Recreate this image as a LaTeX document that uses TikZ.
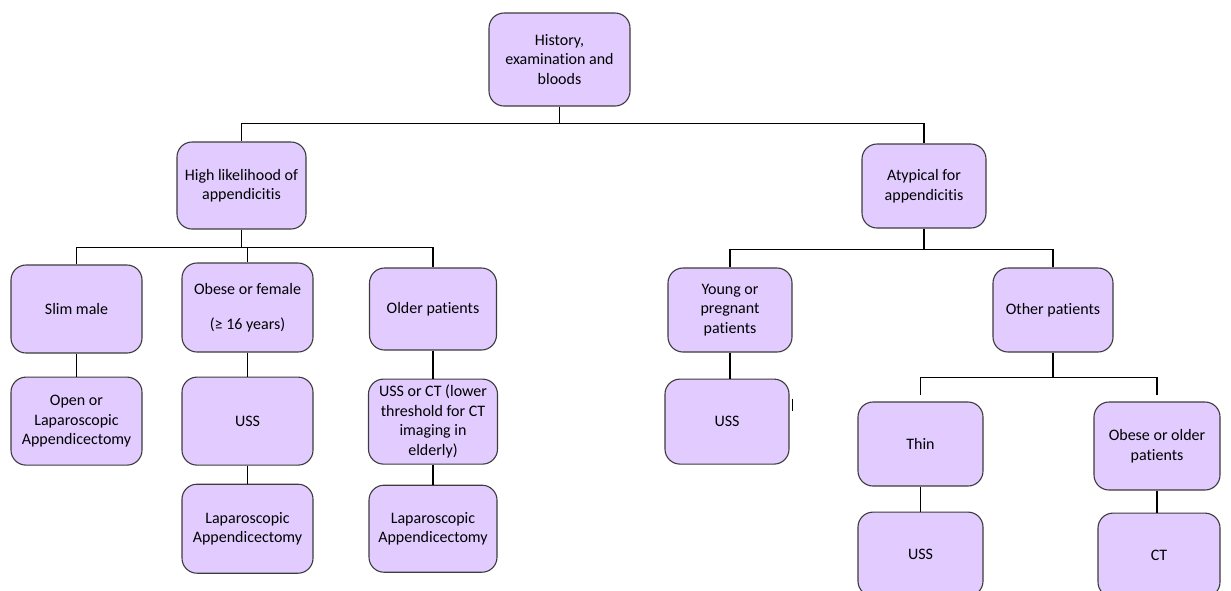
\documentclass[tikz,border=0pt]{standalone}
\usepackage{fontspec}
\setmainfont{Carlito}[Ligatures={NoCommon}]
\usepackage{xcolor}
\usepackage{tikz}
\usetikzlibrary{positioning}
\definecolor{boxfill}{HTML}{E2CCFF}
\definecolor{boxline}{HTML}{3C3C3C}

\begin{document}
\begin{tikzpicture}[
    x=1pt,y=-1pt,
    node distance=24pt,
    every node/.style={font=\fontsize{16}{19.5}\selectfont},
    stepbox/.style={rectangle,rounded corners=15pt,draw=boxline,line width=1.1pt,
      fill=boxfill,align=center,minimum width=130pt,minimum height=88pt,inner sep=2pt},
    link/.style={line width=1.8pt,black},
  ]
  \useasboundingbox (0,0) rectangle (1231,590);
  % top of the tree
  \node[stepbox,minimum width=141pt,minimum height=93pt] (root) at (559.5,59.5) {History,\\examination and\\bloods};
  \node[stepbox,minimum width=129pt,minimum height=87pt] (high) at (241.5,185.5) {High likelihood of\\appendicitis};
  \node[stepbox,minimum width=124pt,minimum height=84pt] (atyp) at (924,186) {Atypical for\\appendicitis};
  \draw[link] (root.south) -- ++(0,17) -| (high.north);
  \draw[link] (root.south) -- ++(0,17) -| (atyp.north);
  % high likelihood branch
  \node[stepbox,minimum width=131pt] (slim) at (76.5,309) {Slim male};
  \node[stepbox,minimum width=131pt,below=23pt of slim] (open) {Open or\\Laparoscopic\\Appendicectomy};
  \node[stepbox,minimum width=131pt,minimum height=89pt] (obese) at (247.5,307.5) {Obese or female\\[15.5pt](≥ 16 years)};
  \node[stepbox,minimum width=131pt,below=24pt of obese] (ussA) {USS};
  \node[stepbox,minimum width=131pt,minimum height=89pt,below=18pt of ussA] (lapA) {Laparoscopic\\Appendicectomy};
  \node[stepbox,minimum width=127pt,minimum height=82pt] (older) at (433,309) {Older patients};
  \node[stepbox,minimum width=129pt,minimum height=85pt,below=28pt of older] (ussct) {USS or CT (lower\\threshold for CT\\imaging in\\elderly)};
  \node[stepbox,minimum width=128pt,minimum height=87pt,below=20pt of ussct] (lapB) {Laparoscopic\\Appendicectomy};
  \draw[link] (high.south) -- ++(0,18) -| (slim.north);
  \draw[link] (high.south) -- ++(0,18) -| (obese.north);
  \draw[link] (high.south) -- ++(0,18) -| (older.north);
  \draw[link] (slim) -- (open);
  \draw[link] (obese) -- (ussA);
  \draw[link] (ussA) -- (lapA);
  \draw[link] (older) -- (ussct);
  \draw[link] (ussct) -- (lapB);
  % atypical branch
  \node[stepbox,minimum width=124pt,minimum height=84pt] (young) at (730,310) {Young or\\pregnant\\patients};
  \node[stepbox,minimum width=124pt,minimum height=85pt,below=26pt of young,xshift=-3pt] (ussB) {USS};
  \node[stepbox,minimum width=120pt,minimum height=84pt] (other) at (1053,310) {Other patients};
  \node[stepbox,minimum width=125pt,minimum height=84pt] (thin) at (920.5,444) {Thin};
  \node[stepbox,minimum width=125pt,minimum height=84pt,below=25pt of thin] (ussC) {USS};
  \node[stepbox,minimum width=126pt,minimum height=88pt] (obold) at (1157,446) {Obese or older\\patients};
  \node[stepbox,minimum width=122pt,minimum height=84pt,below=22pt of obold,xshift=2pt] (ct) {CT};
  \draw[link] (atyp.south) -- ++(0,21) -| (young.north);
  \draw[link] (atyp.south) -- ++(0,21) -| (other.north);
  \draw[link] (young.south) -- (young.south |- ussB.north);
  \draw[line width=1pt] ([xshift=3pt,yshift=-20pt]ussB.north east) -- ++(0,12);
  \draw[link] (other.south) -- ++(0,25) -| ([yshift=6pt]thin.north);
  \draw[link] (other.south) -- ++(0,25) -| ([yshift=6pt]obold.north);
  \draw[link] (thin) -- (ussC);
  \draw[link] (obold.south) -- (obold.south |- ct.north);
\end{tikzpicture}
\end{document}
